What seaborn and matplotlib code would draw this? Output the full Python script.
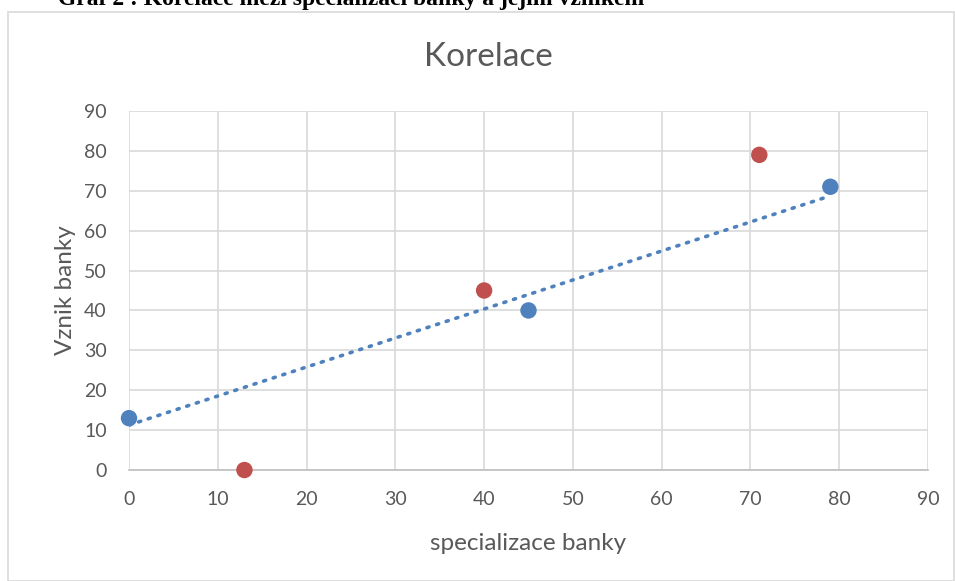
import numpy as np
import pandas as pd
import seaborn as sns
import matplotlib.pyplot as plt
from matplotlib.patches import Rectangle

# data
blue_x = [0, 45, 79]
blue_y = [13, 40, 71]
red_x = [13, 40, 71]
red_y = [0, 45, 79]
ticks = list(range(0, 100, 10))

BLUE = "#4F81BD"
RED = "#C0504D"
GREY = "#595959"

df = pd.DataFrame({
    "x": blue_x + red_x,
    "y": blue_y + red_y,
    "serie": ["A"] * len(blue_x) + ["B"] * len(red_x),
})

sns.set_theme(style="white")
plt.rcParams["font.family"] = ["Lato", "DejaVu Sans"]

fig = plt.figure(figsize=(9.55, 5.81), dpi=100)
ax = fig.add_axes([0.1351, 0.191, 0.8366, 0.618])

# frame around the chart
fig.patches.append(Rectangle((8 / 955, 0), 946 / 955, 1 - 12 / 581, transform=fig.transFigure,
                             fill=False, edgecolor="#d9d9d9", linewidth=1.2))

# caption cut off at the top, as in the reference
fig.text(58 / 955, 1 - 5 / 581, "Graf 2 : Korelace mezi specializací banky a jejím vznikem",
         family="Liberation Serif", fontweight="bold", fontsize=17, color="black",
         va="baseline", ha="left")

# trend line (linear fit of the blue series)
k, q = np.polyfit(blue_x, blue_y, 1)
tx = np.array([min(blue_x), max(blue_x)])
ax.plot(tx, k * tx + q, linestyle=(0, (0.6, 2.2)), color=BLUE, linewidth=2.6,
        dash_capstyle="round", zorder=2)

sns.scatterplot(data=df, x="x", y="y", hue="serie", palette={"A": BLUE, "B": RED},
                s=140, edgecolor="none", legend=False, ax=ax, zorder=3, clip_on=False)

ax.set_xlim(0, 90)
ax.set_ylim(0, 90)
ax.set_xticks(ticks)
ax.set_yticks(ticks)
ax.grid(True, color="#d9d9d9", linewidth=1.2)
ax.set_axisbelow(True)
for side in ["top", "right", "left"]:
    ax.spines[side].set_visible(False)
ax.spines["bottom"].set_color("#bfbfbf")
ax.spines["bottom"].set_linewidth(1.2)
ax.tick_params(axis="x", length=0, labelsize=14, labelcolor=GREY, pad=15)
ax.tick_params(axis="y", length=0, labelsize=14, labelcolor=GREY, pad=16)

fig.text(488 / 955, 1 - 57 / 581, "Korelace", fontsize=24, color=GREY,
         ha="center", va="center")
ax.set_xlabel("specializace banky", fontsize=17.5, color=GREY, labelpad=18)
ax.set_ylabel("Vznik banky", fontsize=17.5, color=GREY, labelpad=6)

plt.savefig("out.png", dpi=100)
plt.close()
